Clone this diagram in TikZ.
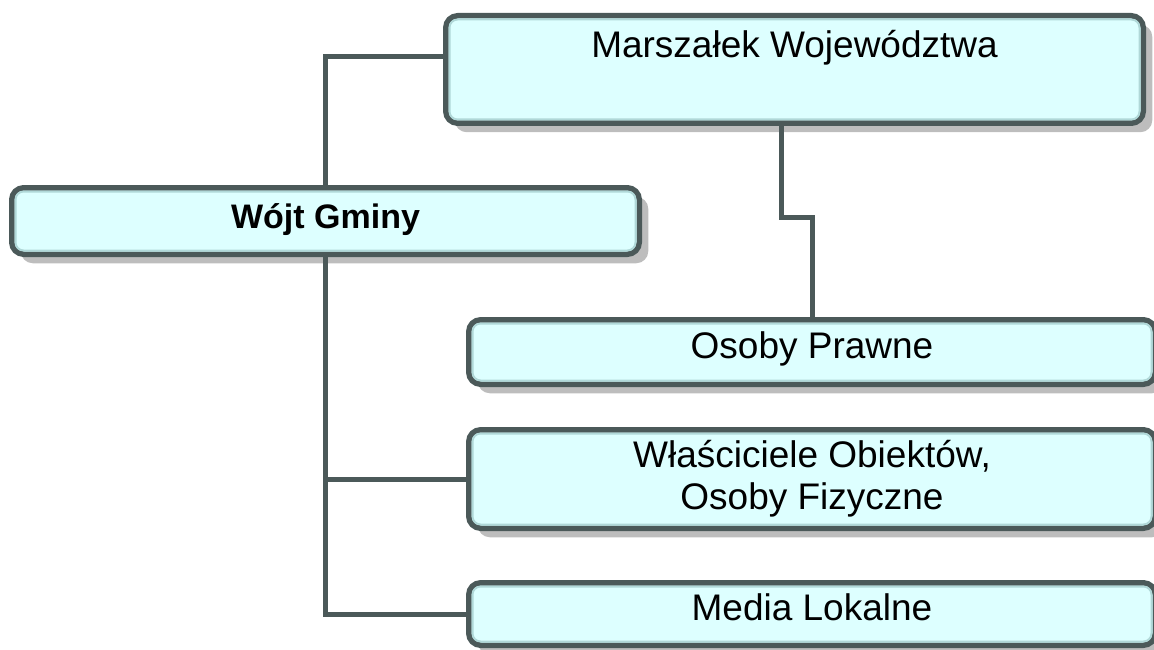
\documentclass[tikz,border=0pt]{standalone}
\usepackage{fontspec}
\setmainfont{Liberation Sans}
\usetikzlibrary{shadows}
\definecolor{bordercol}{HTML}{4B5959}
\definecolor{fillcol}{HTML}{DDFFFF}
\definecolor{bevelcol}{HTML}{B0D8D8}
\definecolor{shadowcol}{HTML}{BDBDBD}
\newcommand\fsreg{\fontsize{37pt}{42pt}\selectfont}
\newcommand\fsbold{\fontsize{34pt}{40pt}\selectfont\bfseries}
\newcommand\bevelbox[1]{\draw[bevelline] ([xshift=6.5pt,yshift=6.5pt]#1.south west) rectangle ([xshift=-6.5pt,yshift=-6.5pt]#1.north east);}
\tikzset{
  orgbox/.style={draw=bordercol, line width=5.5pt, fill=fillcol, rounded corners=12pt,
    inner sep=0pt, align=center, font=\fsreg, text=black,
    drop shadow={shadow xshift=9pt, shadow yshift=-9pt, fill=shadowcol, opacity=1}},
  oneline/.style={text height=27pt, text depth=14pt},
  boldline/.style={font=\fsbold, text height=25pt, text depth=11pt},
  bevelline/.style={draw=bevelcol, line width=2pt, rounded corners=8pt},
  conn/.style={draw=bordercol, line width=5pt},
}
\begin{document}
\begin{tikzpicture}[x=1pt,y=-1pt]
\useasboundingbox (0,0) rectangle (1154,650);
\clip (0,0) rectangle (1154,650);
\node[orgbox, minimum width=697.5pt, minimum height=107.5pt, text height=28pt, text depth=51pt] (m) at (794.5,69.5) {Marszałek Województwa};
\node[orgbox, boldline, minimum width=627.5pt, minimum height=66.5pt] (w) at (325.5,221) {Wójt Gminy};
\node[orgbox, oneline, minimum width=686.5pt, minimum height=64.5pt] (o) at (812,352) {Osoby Prawne};
\node[orgbox, minimum width=686.5pt, minimum height=98.5pt] (wl) at (812,479) {Właściciele Obiektów,\\Osoby Fizyczne};
\node[orgbox, oneline, minimum width=686.5pt, minimum height=62.5pt] (ml) at (812,614) {Media Lokalne};
\bevelbox{m}
\bevelbox{w}
\bevelbox{o}
\bevelbox{wl}
\bevelbox{ml}
\draw[conn] (w.north) |- ([yshift=12.5pt]m.west);
\draw[conn] (w.south) |- (ml.west);
\draw[conn] (w.south |- wl.west) -- (wl.west);
\draw[conn] ([xshift=-13.5pt]m.south) -- ++(0,91) -| (o.north);
\end{tikzpicture}
\end{document}
